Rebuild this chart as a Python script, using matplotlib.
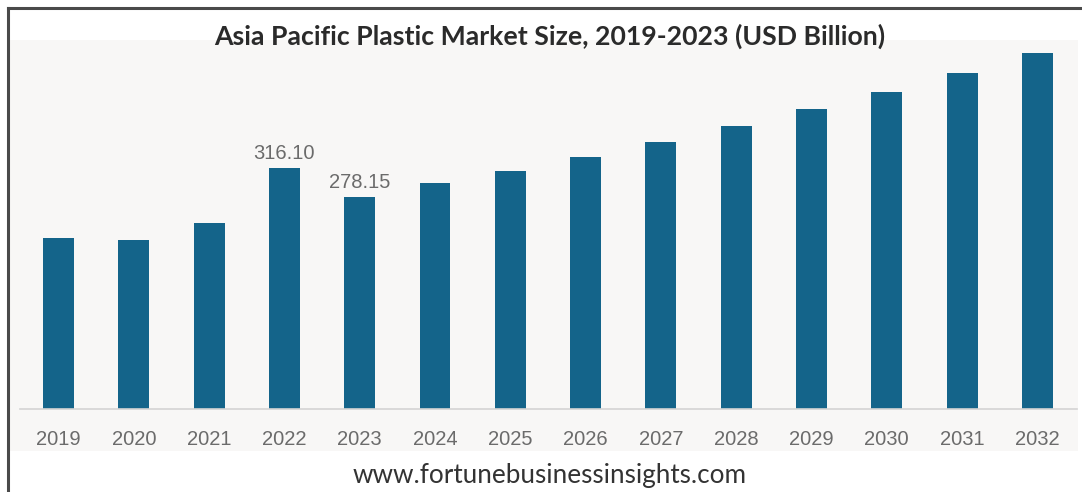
import matplotlib.pyplot as plt
from matplotlib.patches import Rectangle
from matplotlib.lines import Line2D

# ---------------------------------------------------
# DATA
# ---------------------------------------------------

years = ["2019", "2020", "2021", "2022", "2023", "2024", "2025",
         "2026", "2027", "2028", "2029", "2030", "2031", "2032"]

market_size = [224.6, 221.6, 243.4, 316.10, 278.15, 295.9, 312.4,
               330.8, 350.4, 371.0, 393.3, 416.0, 440.9, 467.1]

# only these two bars carry a value label
labelled = {"2022": "316.10", "2023": "278.15"}

# ---------------------------------------------------
# FIGURE
# ---------------------------------------------------

W, H = 1082, 492
fig = plt.figure(figsize=(W / 100, H / 100), dpi=100)
fig.patch.set_facecolor("white")

# light panel behind the bars
fig.patches.append(
    Rectangle((10 / W, (H - 451) / H), (1078 - 10) / W, (451 - 40) / H,
              transform=fig.transFigure, facecolor="#f8f7f6",
              edgecolor="none", zorder=-5)
)

# frame lines on top and left
fig.lines.append(
    Line2D([8 / W, 1.0], [(H - 8) / H, (H - 8) / H],
           transform=fig.transFigure, color="#4a4a4a", linewidth=2.2)
)
fig.lines.append(
    Line2D([8 / W, 8 / W], [0, (H - 8) / H],
           transform=fig.transFigure, color="#4a4a4a", linewidth=2.2)
)

ax = fig.add_axes([20 / W, (H - 409) / H, (1077 - 20) / W, (409 - 40) / H])
ax.set_facecolor("none")
ax.set_zorder(2)

positions = list(range(len(years)))

ax.bar(
    positions,
    market_size,
    width=0.41,
    color="#14648a",
    zorder=2
)

for pos, year, value in zip(positions, years, market_size):
    if year in labelled:
        ax.text(
            pos, value + 6, labelled[year],
            ha="center", va="bottom",
            fontsize=14.5, color="#6b6b6b",
            family="Liberation Sans"
        )

ax.set_xlim(-0.511, 13.526)
ax.set_ylim(0, 484)

ax.set_xticks(positions)
ax.set_xticklabels(years, fontsize=14.5, color="#6b6b6b",
                   family="Liberation Sans")
ax.set_yticks([])
ax.tick_params(axis="x", length=0, pad=15)

for side in ["top", "right", "left"]:
    ax.spines[side].set_visible(False)
ax.spines["bottom"].set_color("#d4d4d4")
ax.spines["bottom"].set_linewidth(1.2)

# ---------------------------------------------------
# TITLE AND FOOTER
# ---------------------------------------------------

fig.text(
    550 / W, (H - 36) / H,
    "Asia Pacific Plastic Market Size, 2019-2023 (USD Billion)",
    ha="center", va="center",
    fontsize=19.2, fontweight="bold", color="#2b2b2b",
    family="Lato", zorder=5
)

fig.text(
    550 / W, (H - 475) / H,
    "www.fortunebusinessinsights.com",
    ha="center", va="center",
    fontsize=18.8, color="#333333",
    family="Lato"
)

plt.savefig("out.png", dpi=100)
